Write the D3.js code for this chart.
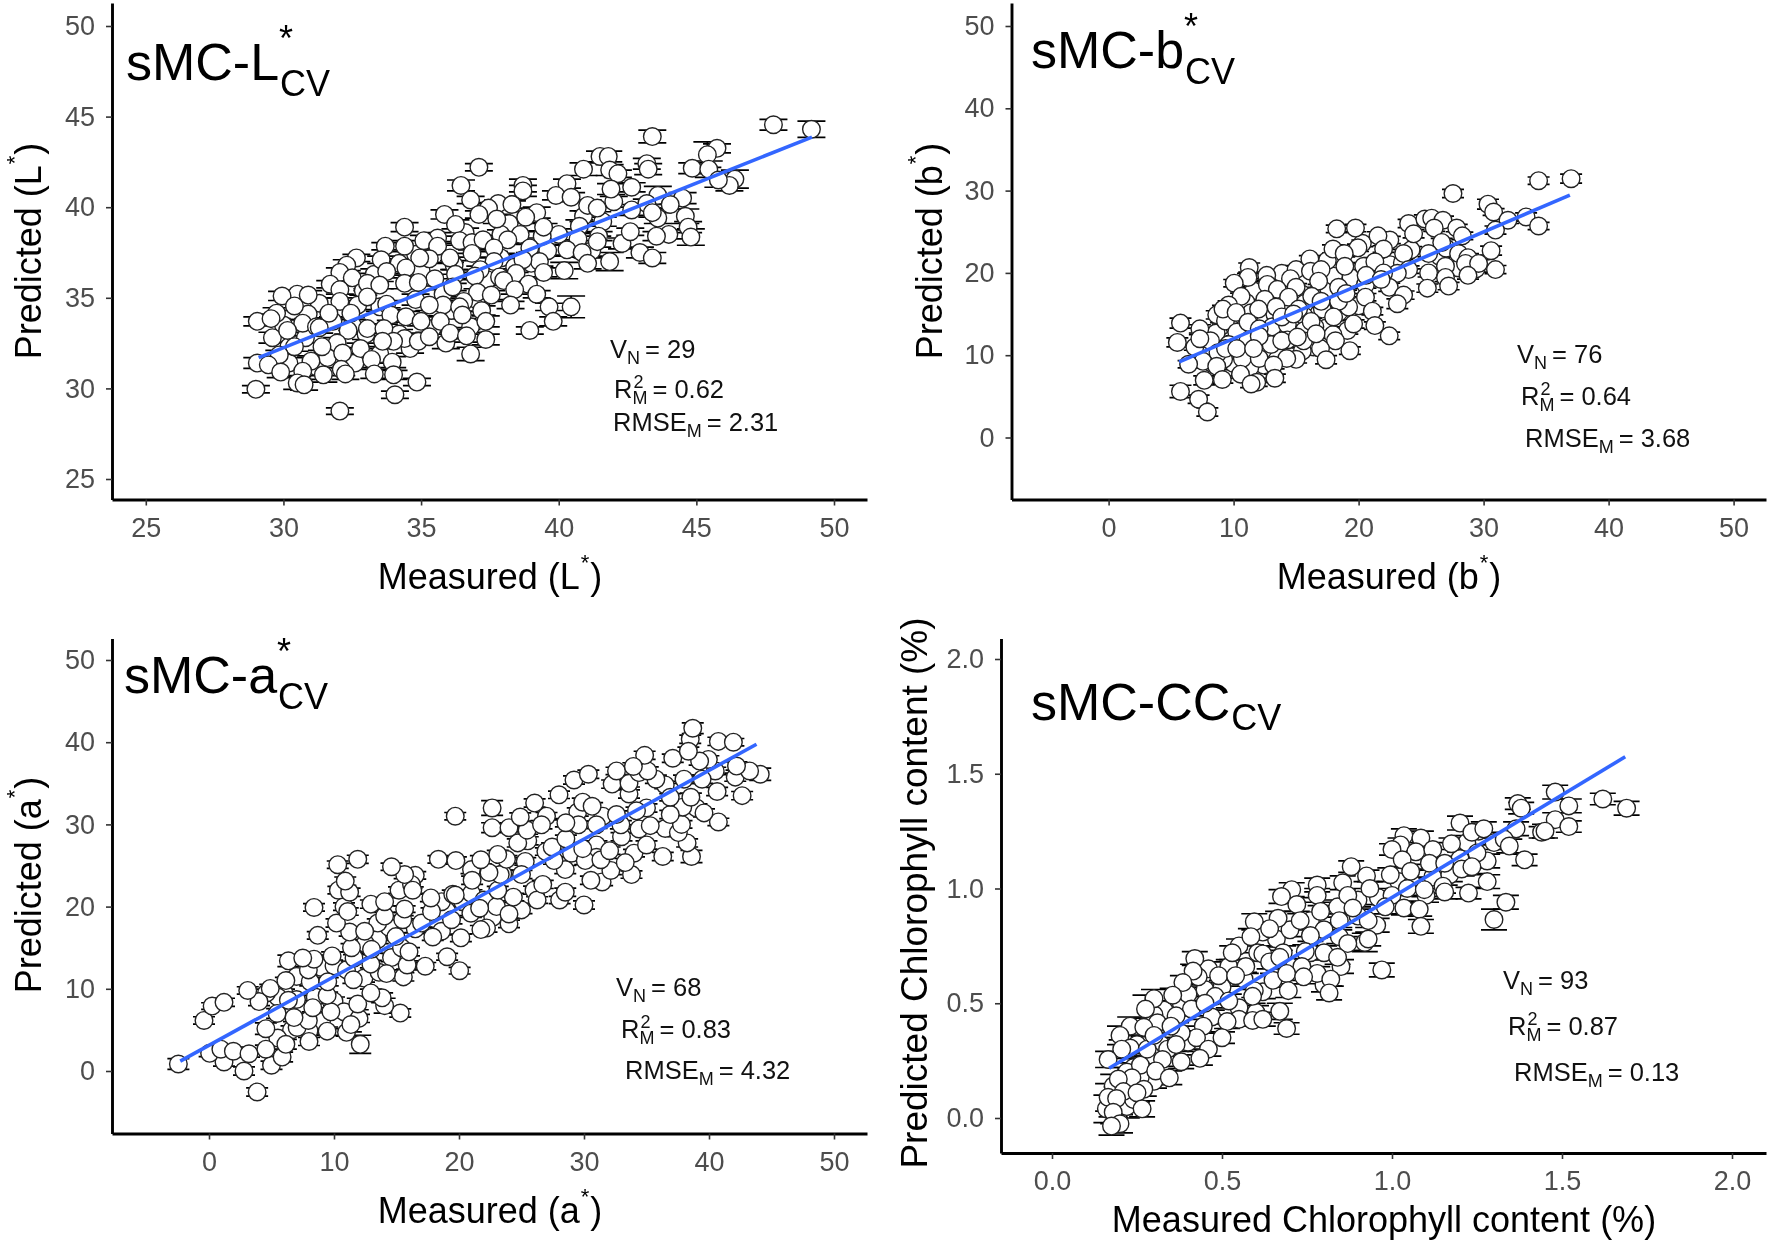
<!DOCTYPE html>
<html>
<head>
<meta charset="utf-8">
<script src="https://cdnjs.cloudflare.com/ajax/libs/d3/7.8.5/d3.min.js"></script>
<style>
html, body { margin: 0; background: #fff; }
svg { display: block; filter: blur(0.55px); font-family: "Liberation Sans", sans-serif; }
</style>
</head>
<body>
<div id="chart"></div>
<script>
var pointsL = [
[33.5,34.5,.25],[34.8,34.9,.3],[35.8,35.2,.25],[36.1,34.3,.3],[37,34.9,.25],[37.4,36,.3],[37.9,37.2,.25],[38.4,36.7,.3],[39,36.9,.25],[39.6,37.6,.3],
[40,38.5,.3],[39.4,38.4,.25],[38.2,39.1,.3],[36.6,38.6,.25],[35.6,38.3,.3],[34.8,37.4,.3],[34.2,36.9,.25],[33.3,36.3,.3],[32.9,35.4,.25],[31.3,34.7,.3],
[30.9,34.1,.25],[30,33.5,.3],[29.6,32.8,.3],[30.2,32.3,.25],[30.8,32.8,.3],[31.8,33.7,.25],[32.5,33.5,.3],[32.7,34.6,.25],[33,33,.3],[34.2,33,.25],
[35.4,33.3,.3],[35.8,34.6,.25],[36.8,33.4,.3],[37.2,34.3,.25],[31.2,31.2,.3],[31.6,31.7,.3],[32.6,31.4,.25],[33.5,31.9,.3],[34.6,32.2,.25],[35.9,32.5,.3],
[30.2,31.4,.3],[36.2,36.8,.25],[35,36.5,.3],[37.9,38.5,.25],[39.2,39.7,.3],[40.9,39.5,.3],[41.6,39.2,.25],[42,40.3,.3],[43.6,39.4,.3],[44,38.5,.25],
[42.3,38,.3],[41.2,37.6,.3],
[49.18,44.3,.45],[47.8,44.55,.3],[43.4,43.9,.35],[45.75,43.25,.25],[45.4,42.9,.7],[41.5,42.8,.3],[41.8,42.8,.3],[43.2,42.4,.3],[43.25,42.1,.3],[37.1,42.2,.2],
[44.85,42.15,.3],[45.45,42.1,.45],[40.9,42.1,.35],[41.85,42.05,.3],[42.15,41.85,.2],[46.4,41.55,.5],[46.2,41.2,.3],[45.8,41.5,.4],[40.3,41.3,.25],[36.45,41.2,.3],
[38.7,41.2,.35],[38.7,40.9,.3],[42.65,41.1,.25],[41.9,41,.3],[43.6,40.65,.5],[44.5,40.5,.3],[39.9,40.65,.25],[40.45,40.55,.25],[36.8,40.4,.2],[41.05,40.1,.3],
[41.4,39.95,.2],[44.05,40.15,.25],[43.2,40.2,.25],[37.8,40.2,.2],[38.3,40.15,.2],[37.45,39.95,.3],[35.85,39.6,.25],[42.65,39.85,.3],[43.4,39.7,.25],[37.1,39.6,.2],
[37.75,39.35,.25],[38.8,39.45,.3],[44.6,39.5,.4],[34.4,38.9,.25],[44.7,38.9,.3],[39.45,38.9,.2],[40.75,38.95,.35],[36.25,39.05,.25],[41.45,38.4,.25],[42.6,38.65,.2],
[43.55,38.4,.25],[44.8,38.35,.45],[40.7,38.25,.3],[41.4,38.1,.3],[38.6,38.5,.2],[38.15,38.2,.25],[35.1,38.15,.3],[35.6,37.85,.25],[36.4,38.15,.25],[36.85,38.05,.2],
[37.25,38.2,.25],[34.4,37.85,.3],[33.7,37.85,.2],[38.95,37.75,.25],[37.65,37.75,.2],[40.3,37.65,.3],[40.85,37.5,.25],[42.95,37.5,.3],[32.65,37.2,.2],[32.3,36.8,.3],
[43.4,37.2,.3],[41.85,37,.5],[41.05,36.9,.3],[39.3,37,.25],[36.05,37.2,.25],[35.3,37.15,.25],[34.95,37.2,.3],[33.55,37.1,.2],[36.85,37.45,.2],[37.65,37,.2],
[38.7,37.1,.3],[40.2,36.5,.45],[32.05,36.4,.25],[34.45,36.65,.3],[33.75,36.45,.2],[37.15,36.55,.2],[39.45,36.4,.25],[38.45,36.35,.25],[36.25,36.3,.25],[35.5,36.05,.25],
[36.95,36.2,.2],[37.85,36.15,.2],[38,35.95,.25],[32.5,36.1,.25],[31.7,35.75,.2],[32.05,35.45,.25],[33.05,35.8,.3],[33.5,35.7,.2],[34.4,35.8,.3],[34.9,35.85,.2],
[36.15,35.6,.2],[38.9,35.75,.3],[38.4,35.45,.25],[37.05,35.3,.2],[30.5,35.2,.2],[30.9,35.15,.25],[29.95,35.1,.25],[33.05,35.05,.35],[39.2,35.2,.2],[37.55,35.15,.25],
[32.05,34.8,.2],[36.55,34.8,.25],[33.75,34.65,.2],[35.3,34.6,.3],[38.25,34.6,.2],[39.65,34.5,.2],[40.45,34.5,.6],[30.4,34.55,.25],[36.4,34.5,.25],[29.75,34.15,.3],
[31.65,34.15,.25],[32.45,34.15,.25],[33.9,34.05,.3],[34.45,33.95,.3],[36.5,34.05,.2],[29.05,33.7,.25],[29.55,33.85,.25],[30.7,33.6,.2],[35,33.7,.25],[35.7,33.7,.3],
[37.35,33.7,.3],[39.8,33.7,.25],[31.2,33.4,.2],[31.3,33.35,.3],[33.05,33.3,.25],[33.65,33.3,.25],[30.15,33.2,.3],[32.35,33.2,.2],[38.95,33.2,.2],[36.05,33.05,.3],
[36.65,32.9,.35],[31.95,32.5,.3],[37.35,32.7,.3],[34.4,32.75,.3],[34.9,32.6,.2],[35.3,32.85,.25],[34,32.6,.25],[30.4,32.3,.25],[31.4,32.3,.2],[32.8,32.2,.3],
[33.6,32.6,.3],[29.85,31.85,.25],[36.8,31.9,.37],[32.15,31.95,.3],[33.2,31.6,.2],[33.95,31.45,.3],[31,31.5,.3],[29.05,31.4,.3],[29.45,31.3,.25],[32.1,31.05,.35],
[30.7,30.95,.25],[33.3,30.8,.25],[34,30.75,.25],[29.9,30.9,.3],[31.45,30.75,.4],[30.5,30.3,.35],[30.75,30.2,.3],[34.85,30.35,.2],[32.25,30.8,.3],[29,29.95,.2],
[34.05,29.65,.2],[32.05,28.75,.18]
];
var pointsB = [
[9,13.5,.45],[10,13.6,.4],[10.7,14.3,.45],[11.8,14.8,.4],[12.4,14.4,.45],[13.3,15,.4],[14.2,16.2,.45],[15.5,17.4,.4],[16.8,17.8,.45],[17.6,18.1,.4],
[18,19.6,.45],[19.4,19.4,.4],[20,16,.45],[18.4,15.2,.4],[19.1,13,.45],[17.4,13.3,.4],[16.4,11,.45],[15.5,10.5,.4],[15,9.5,.45],[13.5,9.8,.4],
[12.4,8.8,.45],[11.3,8.5,.4],[10,9,.45],[9.2,9.5,.4],[8.3,9,.45],[7.6,10.5,.4],[8.6,12.7,.45],[6.9,11,.4],[10.8,10.5,.45],[13.2,12.5,.4],
[14.5,12.9,.45],[16.3,15.5,.4],[15.7,16.3,.45],[13.3,17.3,.4],[11.6,17.8,.45],[11,16.4,.4],[10,14.9,.45],[22.5,21,.4],[23.5,21.2,.45],[24.2,22.8,.4],
[26.5,22,.45],[27,23,.4],[28,20.6,.45],[29.4,20.5,.4],[22.5,24,.45],[20.3,23.6,.4],[17.5,21.5,.45],[16.1,21.7,.4],
[37,31.45,.55],[34.4,31.2,.45],[27.55,29.65,.5],[30.35,28.35,.6],[30.8,27.4,.4],[33.4,26.8,.5],[31.95,26.4,.4],[34.4,25.7,.45],[30.95,25.2,.5],[24,26,.5],
[25.3,26.55,.5],[25.85,26.65,.5],[26.75,26.4,.5],[26.05,25.45,.4],[27.85,25.45,.45],[24.4,24.75,.5],[18.25,25.35,.45],[19.75,25.45,.45],[21.55,24.5,.5],[28.3,24.5,.45],
[26.65,23.7,.5],[28,22.35,.45],[30.6,22.7,.55],[17.95,22.9,.5],[19.95,23.05,.45],[22,22.9,.4],[23.6,22.35,.5],[25.6,22.35,.4],[28.75,21.85,.5],[18.85,22.35,.4],
[28.55,21.15,.45],[29.6,21.15,.45],[18.9,20.8,.45],[20.4,20.8,.4],[21.3,21.35,.5],[11.25,20.65,.55],[13.85,19.95,.45],[15,20.4,.5],[16.15,20.2,.4],[17,20.4,.45],
[14.55,19.3,.45],[11.15,19.45,.5],[12.65,19.7,.4],[16.8,19,.4],[24,20.4,.45],[25.6,20,.5],[26.95,20.8,.45],[30.95,20.4,.5],[23.1,19.95,.4],[28.75,19.7,.45],
[26.95,19.45,.5],[10.05,18.75,.45],[12.7,18.6,.5],[13.5,18,.4],[15,18.25,.45],[18.4,18.25,.4],[20.55,18.6,.45],[22.45,18.25,.5],[25.5,18.15,.5],[27.2,18.4,.45],
[10.6,17.15,.4],[12.5,16.8,.45],[14.4,17.05,.4],[16.25,17.15,.5],[20.55,17.05,.45],[23.6,17.3,.5],[23.1,16.25,.6],[9.6,16.1,.5],[11.4,15.15,.45],[12,15.6,.4],
[13.4,15.85,.5],[17.1,15.6,.45],[19.2,15.85,.5],[21.1,15.35,.45],[15.65,14.75,.4],[8.65,14.9,.5],[9.35,14.15,.45],[5.75,13.9,.6],[13.1,13.45,.4],[14.3,13.7,.45],
[16.5,13.45,.45],[19.6,13.8,.5],[21.3,13.6,.45],[7.3,13.2,.5],[10.25,12.8,.45],[15.65,13,.4],[17.95,12.5,.45],[22.45,12.35,.45],[5.5,11.55,.55],[8.15,11.75,.45],
[7.3,12,.5],[9.6,11.3,.45],[14.3,11.85,.4],[15.6,11.75,.45],[18.15,11.75,.4],[12.3,10.55,.5],[8.75,10.3,.45],[16.95,10.8,.45],[19.3,10.55,.45],[10.7,9.6,.4],
[14.25,9.6,.45],[17.4,9.45,.5],[12.05,9.6,.45],[7.55,9.25,.5],[6.4,8.9,.45],[8.65,8.65,.4],[13.2,8.8,.45],[10.55,7.7,.5],[7.65,6.95,.55],[9.1,7.05,.45],
[11.85,6.7,.5],[11.4,6.5,.45],[13.3,7.2,.5],[5.75,5.6,.75],[7.2,4.65,.5],[7.9,3.1,.5],[9.15,15.6,.45],[10.2,15.2,.4],[11.15,14,.45],[12.05,13.2,.45],
[13,11.3,.4],[11.15,11.75,.45],[12.05,12.3,.4],[13.85,14.65,.45],[15.2,15.6,.4],[17,16.55,.45],[18.4,16.55,.4],[18,14.65,.45],[20.6,19.7,.4],[22,20,.45],
[13.85,11.75,.4],[15.1,12.2,.4],[9.35,10.8,.45],[10.25,10.8,.4],[11.6,10.8,.4],[16.2,14.1,.4],[16.6,12.6,.4],[14.8,15,.4],[19,17.5,.4],[21.8,19.2,.45]
];
var pointsA = [
[6,9.5,.45],[7,8.7,.5],[8.5,9,.45],[10,8.5,.5],[10.8,7.2,.45],[12,6.4,.5],[11,4.7,.45],[9,6,.5],[8,4.9,.45],[6.6,5,.5],
[5.5,4,.45],[5.5,9,.5],[4.6,9.5,.45],[7,11.5,.5],[9,12.6,.45],[10,12.8,.5],[11,12.3,.45],[12.4,11.3,.5],[13.6,12,.45],[14.6,13.8,.5],
[15.4,15,.45],[13.5,16,.5],[12.5,15.5,.45],[14.4,17.5,.5],[16.5,17.3,.45],[17,18,.5],[18.6,17,.45],[19,19.5,.5],[18.6,20.6,.45],[20.3,20.6,.5],
[21,21.6,.45],[22,20.8,.5],[22.7,18.7,.45],[23,20,.5],[25,19.6,.45],[26,22,.5],[25.3,25.5,.45],[28.5,24.5,.5],[29,26.5,.45],[31,27.5,.5],
[31,26,.45],[33,28.5,.5],[34,26.5,.45],[35,27.5,.5],[36.5,29.5,.45],[35,32,.5],[36.5,34.8,.45],[38,35.5,.5],[40.5,36.5,.45],[39,32,.5],
[31.5,31,.45],[29.5,31.5,.5],[27,31,.45],[25.5,28,.5],[23.5,24,.45],[21,24.5,.5],[10.8,20,.45],[13.5,18,.5],[16.5,23.8,.45],
[-2.45,.85,.65],[3.85,-2.55,.5],[2.8,0,.5],[5,.7,.5],[5.85,1.7,.6],[1.2,1.1,.5],[.05,2.15,.4],[.95,2.65,.45],[1.95,2.4,.5],[3.2,2.1,.4],
[4.55,2.65,.5],[6.15,3.25,.6],[12.1,3.25,1.1],[8,3.6,.5],[9.45,4.85,.5],[4.55,5.15,.7],[11.35,5.65,.9],[7.05,5.3,.5],[7.95,6.15,.4],[-.4,6.15,.45],
[.25,7.9,.4],[1.2,8.35,.5],[4,8.45,.5],[5.45,7,.6],[6.8,6.5,.5],[15.3,7.05,.5],[9.75,7.2,.5],[8.3,7.7,.5],[11.9,8.15,.7],[14.05,7.95,.9],
[3.1,9.8,.45],[4.9,10.05,.5],[6.35,8.6,.5],[9.45,9.2,.4],[13.85,8.9,.6],[12.95,9.5,.45],[6.15,11,.4],[8.1,10.85,.5],[11.55,11.1,.45],[15.55,11.45,.5],
[14.2,11.85,.45],[9.5,10.85,.5],[7.95,12.3,.4],[6.35,13.4,.7],[8.4,13.6,.5],[12.95,13,.45],[17.3,12.75,.45],[20.05,12.2,.4],[15.85,12.9,.5],[11.6,13.75,.4],
[7.5,13.75,.45],[9.85,14,.5],[13,14.8,.45],[16,14.5,.5],[19.05,13.9,.4],[11.4,15,.5],[14.95,16.35,.45],[8.7,16.5,.45],[20.15,16.2,.45],[17.9,16.3,.4],
[11.25,16.9,.5],[12.45,17,.5],[22.2,17.4,.5],[21.75,17.2,.5],[24,17.9,.45],[15.5,18.4,.5],[14.05,18.85,.45],[10.2,18,.5],[24,19.1,.5],[19.4,18.4,.5],
[17.8,19.4,.45],[11.1,19.4,.45],[8.4,19.9,.45],[12.95,20.3,.5],[14.05,20.6,.5],[20.95,19.2,.5],[21.65,19.8,.45],[15.65,19.7,.4],[30,20.2,.5],[26.25,20.8,.4],
[28.05,20.8,.45],[24.35,21.15,.45],[17.75,21.05,.45],[19.5,21.5,.5],[10.35,22,.45],[11.25,21.75,.5],[15.2,22,.4],[16.2,22.7,.5],[16.3,22,.4],[19.7,21.4,.5],
[23.1,22,.45],[26.7,22.7,.5],[28.5,21.75,.5],[31.45,23,.45],[10.9,23.1,.5],[15.65,23.9,.5],[21.05,23.2,.5],[23.3,23.9,.5],[25,23.9,.5],[30.55,23.2,.5],
[33.8,23.9,.45],[32.15,24.4,.5],[10.3,25.1,.45],[14.6,24.85,.45],[22.4,24.15,.4],[33.3,25.35,.5],[11.9,25.75,.5],[18.35,25.75,.45],[19.75,25.6,.45],[21.75,25.7,.5],
[23.8,25.75,.45],[27.6,25.6,.45],[30.1,25.6,.5],[31.35,25.7,.45],[36.3,26.1,.5],[38.6,26.1,.75],[23.1,26.35,.5],[26.95,26.7,.45],[29.9,27.05,.5],[24.7,27.75,.5],
[32.05,26.8,.45],[27.45,27.25,.5],[38.25,27.75,.5],[28.55,28.25,.45],[37.55,29,.5],[25.45,29.3,.5],[22.65,29.6,.6],[24,29.6,.5],[26.6,29.95,.5],[29.55,29.95,.45],
[31,29.95,.45],[32.95,29.95,.5],[34.4,29.45,.5],[40.75,30.3,.45],[35.3,29.85,.5],[19.7,31,.45],[24.9,30.9,.5],[28.55,30.2,.5],[37.8,30,.45],[39.6,31.4,.5],
[22.65,32,.9],[26.05,32.6,.5],[29.9,32.7,.5],[30.65,32.2,.45],[37.9,32.1,.5],[32.6,31.2,.45],[34.2,31.65,.45],[36.9,31.2,.5],[28,33.6,.45],[38.55,33.3,.5],
[33.6,33.7,.5],[40.65,34,.5],[42.65,33.5,.5],[36.9,33.3,.45],[29.2,35.4,.5],[30.35,36.1,.5],[32.25,34.9,.5],[33.6,35,.45],[35.75,35.5,.5],[39.45,35.5,.5],
[42.1,35.75,.5],[32.6,36.5,.45],[34.4,36.3,.5],[35.1,36.5,.5],[44.1,36.1,.75],[43.25,36.5,.5],[42.2,37.1,.5],[34.85,38.4,.5],[33.95,37.05,.45],[37.1,38.05,.5],
[39.95,37.9,.45],[39.25,37.7,.5],[40.75,40.1,.5],[41.95,40,.45],[38.5,40.35,.5],[38.7,41.7,.65],[38.35,38.9,.5]
];
var pointsCC = [
[.24,.22,.04],[.3,.16,.03],[.22,.2,.04],[.25,.32,.04],[.32,.32,.03],[.34,.3,.03],[.4,.33,.03],[.33,.47,.04],[.38,.5,.04],[.45,.56,.03],
[.5,.57,.03],[.47,.44,.03],[.55,.48,.03],[.62,.55,.03],[.65,.6,.03],[.7,.66,.03],[.76,.72,.03],[.66,.78,.03],[.7,.82,.03],[.76,.86,.03],
[.8,.82,.03],[.84,.92,.03],[.9,.88,.03],[.96,.96,.03],[1.02,1.03,.03],[1.06,1.02,.03],[1.12,1.05,.03],[1.17,1.06,.03],[1.2,1.13,.03],[1.22,1.2,.03],
[1.28,1.12,.03],[1.3,1.2,.03],[.52,.66,.03],[.46,.65,.03],[.4,.54,.03],[.26,.18,.04],[.18,.14,.05],[.22,.05,.05],[.24,.08,.05],[.16,.04,.06],
[.3,.45,.04],[.55,.75,.03],[.62,.81,.03],[.9,.95,.03],[1,.97,.03],[1.15,1.01,.03],[1.1,.97,.03],[.85,.66,.03],[.8,.58,.03],[.6,.46,.03],
[1.69,1.35,.03],[1.62,1.39,.025],[1.48,1.42,.03],[1.37,1.37,.025],[1.38,1.35,.025],[1.52,1.36,.03],[1.48,1.3,.03],[1.52,1.27,.025],[1.44,1.245,.025],[1.45,1.25,.03],
[1.365,1.26,.03],[1.2,1.285,.03],[1.255,1.25,.03],[1.235,1.245,.025],[1.27,1.26,.03],[1.035,1.23,.03],[1.085,1.22,.03],[1.175,1.195,.025],[1.025,1.19,.03],[1.33,1.215,.03],
[1.345,1.185,.03],[1,1.17,.025],[1.07,1.16,.03],[1.12,1.17,.03],[1.25,1.155,.035],[1.39,1.125,.025],[1.03,1.125,.03],[1.11,1.11,.025],[1.155,1.11,.03],[.88,1.095,.025],
[1.205,1.085,.03],[1.235,1.095,.03],[1.055,1.075,.03],[.995,1.06,.03],[.925,1.055,.025],[1.28,1.03,.03],[.855,1.025,.03],[.935,1,.03],[.78,1.015,.03],[.705,.995,.03],
[1.045,1,.03],[1.095,.995,.03],[1.225,.98,.025],[1.155,.985,.03],[.675,.965,.03],[.78,.97,.03],[.87,.97,.03],[1.335,.94,.03],[.72,.93,.03],[.885,.915,.03],
[1.035,.915,.03],[1.08,.91,.03],[.79,.9,.025],[.665,.87,.03],[.73,.86,.03],[.595,.855,.035],[1.3,.865,.045],[.64,.825,.03],[1.085,.835,.03],[.955,.84,.03],
[.845,.86,.03],[.585,.79,.035],[.76,.795,.025],[.845,.79,.03],[.92,.765,.04],[.93,.78,.03],[.53,.72,.03],[.68,.72,.03],[.745,.725,.03],[.605,.72,.03],
[.62,.715,.03],[.42,.695,.03],[.97,.645,.03],[.735,.66,.03],[.49,.62,.03],[.43,.615,.035],[.69,.63,.03],[.78,.63,.03],[.415,.64,.03],[.82,.605,.03],
[.565,.605,.03],[.385,.59,.03],[.74,.615,.03],[.815,.545,.03],[.695,.555,.03],[.595,.555,.03],[.48,.53,.03],[.355,.535,.03],[.3,.52,.04],[.52,.51,.03],
[.275,.475,.06],[.41,.475,.03],[.67,.465,.035],[.365,.445,.03],[.55,.43,.025],[.59,.425,.025],[.62,.43,.03],[.515,.42,.03],[.31,.415,.03],[.23,.4,.04],
[.27,.395,.04],[.69,.39,.025],[.445,.4,.03],[.2,.36,.04],[.5,.35,.025],[.425,.35,.03],[.38,.37,.03],[.365,.32,.03],[.46,.3,.03],[.23,.305,.035],
[.205,.3,.04],[.29,.275,.03],[.165,.255,.035],[.435,.26,.03],[.325,.255,.03],[.38,.245,.03],[.26,.23,.03],[.305,.205,.03],[.235,.175,.035],[.345,.175,.03],
[.195,.17,.05],[.27,.125,.03],[.21,.115,.05],[.25,.11,.04],[.165,.09,.06],[.19,.085,.05],[.265,.04,.035],[.18,.025,.05],[.2,-.025,.04],[.175,-.035,.04],
[.57,.66,.03],[.54,.62,.03],[.64,.68,.03],[.67,.7,.03],[.8,.72,.03],[.87,.76,.03],[.84,.7,.03],[.93,.86,.03],[.98,.92,.03],[.59,.53,.03],[.45,.5,.03],[.35,.4,.03],[.28,.3,.03],[.3,.36,.03]
];
var lineL = [[29.1,31.7],[49.2,43.87]];
var lineB = [[5.65,9.2],[36.9,29.45]];
var lineA = [[-2.3,1.2],[43.8,39.75]];
var lineCC = [[.168,.217],[1.686,1.574]];
var ticks50 = [25,30,35,40,45,50];
var ticks0_50 = [0,10,20,30,40,50];
var ticksCC = [0,.5,1,1.5,2];

var svg = d3.select('#chart').append('svg').attr('width',1772).attr('height',1243);

// dibuja un panel: escalas, ejes, barras de error, puntos y recta
function panel(p){
    var bx = d3.scaleLinear().domain(p.xk).range(p.xr);
    var by = d3.scaleLinear().domain(p.yk).range(p.yr);
    var x = d3.scaleLinear().domain([bx.invert(p.left),bx.invert(p.right)]).range([p.left,p.right]);
    var y = d3.scaleLinear().domain([by.invert(p.bottom),by.invert(p.top)]).range([p.bottom,p.top]);
    var g = svg.append('g');

    var caps = g.append('g').attr('stroke','#000').attr('stroke-width',1.7);
    caps.selectAll('path').data(p.data).enter().append('path').attr('fill','none')
        .attr('d',function(d){
            var x0 = x(d[0]), a = y(d[1]+d[2]), b = y(d[1]-d[2]), w = p.cap;
            return 'M'+(x0-w)+','+a+'H'+(x0+w)+'M'+x0+','+a+'V'+b+'M'+(x0-w)+','+b+'H'+(x0+w);
        });
    g.append('g').selectAll('circle').data(p.data).enter().append('circle')
        .attr('cx',function(d){return x(d[0])})
        .attr('cy',function(d){return y(d[1])})
        .attr('r',8.8).attr('fill','#fff').attr('stroke','#222').attr('stroke-width',1.4);
    g.append('path').datum(p.line).attr('fill','none').attr('stroke','#3366ff').attr('stroke-width',3.6)
        .attr('d',d3.line().x(function(d){return x(d[0])}).y(function(d){return y(d[1])}));

    var xa = g.append('g').attr('transform','translate(0,'+p.bottom+')')
        .call(d3.axisBottom(x).tickValues(p.xt).tickFormat(p.fmt).tickSize(6).tickSizeOuter(0).tickPadding(12));
    var ya = g.append('g').attr('transform','translate('+p.left+',0)')
        .call(d3.axisLeft(y).tickValues(p.yt).tickFormat(p.fmt).tickSize(6).tickSizeOuter(0).tickPadding(11));
    [xa,ya].forEach(function(a){
        a.select('.domain').attr('stroke','#000').attr('stroke-width',2.9);
        a.selectAll('.tick line').attr('stroke','#333').attr('stroke-width',1.6);
        a.selectAll('.tick text').attr('fill','#4d4d4d').attr('font-size',27).attr('font-family','"Liberation Sans", sans-serif');
    });

    // titulos de ejes
    var tx = g.append('text').attr('x',p.xtx).attr('y',p.xty).attr('text-anchor','middle').attr('font-size',36).attr('fill','#000');
    writeLabel(tx,p.xlab);
    var ty = g.append('text').attr('transform','translate('+p.ytx+','+p.yty+') rotate(-90)').attr('text-anchor','middle').attr('font-size',p.yts||36).attr('fill','#000');
    writeLabel(ty,p.ylab);

    // titulo del panel con superindice y subindice apilados
    var main = g.append('text').attr('x',p.tx).attr('y',p.ty).attr('font-size',52).attr('fill','#000').text(p.title);
    var end = p.tx + main.node().getComputedTextLength();
    if(p.star) g.append('text').attr('x',end).attr('y',p.ty-29).attr('font-size',36).text('*');
    g.append('text').attr('x',end+1).attr('y',p.ty+p.sub).attr('font-size',36).text('CV');

    // anotaciones
    stat(g,p.ax[0],p.ay[0],'V','N',null,p.stats[0]);
    stat(g,p.ax[1],p.ay[1],'R','M','2',p.stats[1]);
    stat(g,p.ax[2],p.ay[2],'RMSE','M',null,p.stats[2]);
}

function writeLabel(t,parts){
    t.append('tspan').text(parts[0]);
    if(parts.length>1){
        t.append('tspan').attr('font-size',22).attr('dy',-19).attr('dx',1).text('*');
        t.append('tspan').attr('dy',19).attr('dx',1).text(parts[1]);
    }
}

// todo en un solo text, el superindice y el subindice comparten x
function stat(g,x,y,a,sub,sup,val){
    var t = g.append('text').attr('x',x).attr('y',y).attr('font-size',25.5).attr('fill','#111');
    t.append('tspan').text(a);
    var w = t.node().getComputedTextLength();
    if(sup){
        t.append('tspan').attr('font-size',18).attr('x',x+w+1).attr('dy',-10).text(sup);
        t.append('tspan').attr('font-size',18).attr('x',x+w).attr('dy',16).text(sub);
    } else {
        t.append('tspan').attr('font-size',18).attr('dy',6).text(sub);
    }
    t.append('tspan').attr('dy',-6).attr('dx',5).text('= '+val);
}

var fmt0 = d3.format('d'), fmt1 = d3.format('.1f');

panel({data:pointsL,line:lineL,xk:[25,50],xr:[145.8,834],yk:[25,50],yr:[479,26],left:112,right:867,top:3,bottom:499.5,
    xt:ticks50,yt:ticks50,fmt:fmt0,cap:14,
    xlab:['Measured (L',')'],ylab:['Predicted (L',')'],xtx:490,xty:589,ytx:41,yty:251,
    title:'sMC-L',star:true,sub:16,tx:126,ty:80,ax:[610,614,613],ay:[358,398,431],stats:['29','0.62','2.31']});
panel({data:pointsB,line:lineB,xk:[0,50],xr:[1108.6,1733.6],yk:[0,50],yr:[437.5,26],left:1011.5,right:1766,top:3,bottom:499.5,
    xt:ticks0_50,yt:ticks0_50,fmt:fmt0,cap:11,
    xlab:['Measured (b',')'],ylab:['Predicted (b',')'],xtx:1389,xty:589,ytx:942,yty:251,
    title:'sMC-b',star:true,sub:16,tx:1031,ty:68,ax:[1517,1521,1525],ay:[363,405,447],stats:['76','0.64','3.68']});
panel({data:pointsA,line:lineA,xk:[0,50],xr:[209,834],yk:[0,50],yr:[1071,660],left:112,right:867,top:638.5,bottom:1133.5,
    xt:ticks0_50,yt:ticks0_50,fmt:fmt0,cap:11,
    xlab:['Measured (a',')'],ylab:['Predicted (a',')'],xtx:490,xty:1223,ytx:41,yty:885,
    title:'sMC-a',star:true,sub:16,tx:124,ty:693,ax:[616,621,625],ay:[996,1038,1079],stats:['68','0.83','4.32']});
panel({data:pointsCC,line:lineCC,xk:[0,2],xr:[1052,1732],yk:[0,2],yr:[1118,659],left:1001,right:1766,top:638.5,bottom:1153,
    xt:ticksCC,yt:ticksCC,fmt:fmt1,cap:13,yts:37,
    xlab:['Measured Chlorophyll content (%)'],ylab:['Predicted Chlorophyll content (%)'],xtx:1384,xty:1232,ytx:927,yty:893,
    title:'sMC-CC',star:false,sub:10,tx:1031,ty:720,ax:[1503,1508,1514],ay:[989,1035,1081],stats:['93','0.87','0.13']});
</script>
</body>
</html>
